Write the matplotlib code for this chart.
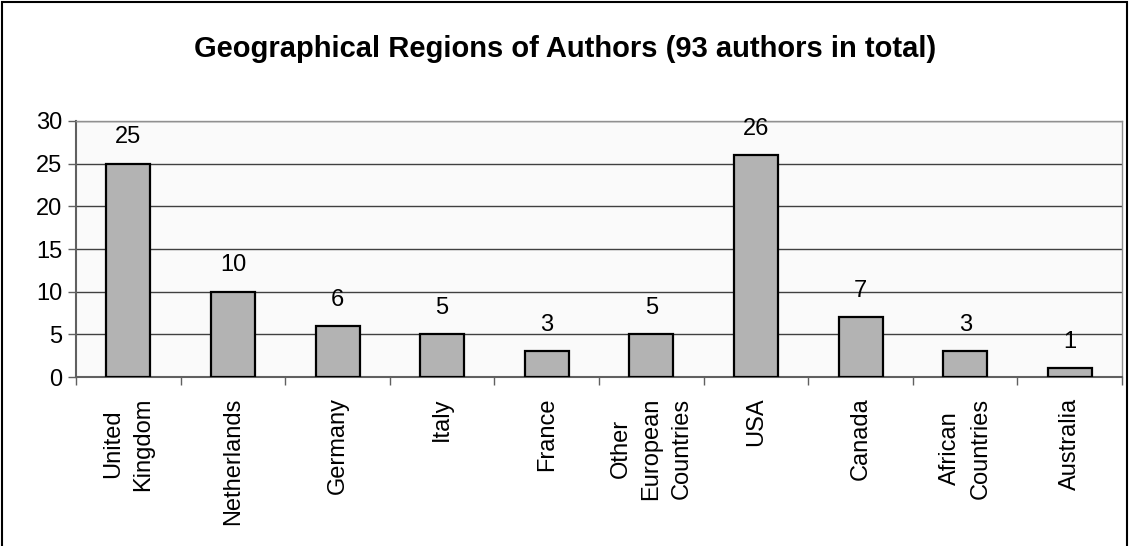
import numpy as np
import matplotlib.pyplot as plt
from matplotlib.patches import Rectangle

plt.rcParams['font.family'] = ['Liberation Sans', 'DejaVu Sans']

regions = ["United\nKingdom", "Netherlands", "Germany", "Italy", "France",
           "Other\nEuropean\nCountries", "USA", "Canada", "African\nCountries",
           "Australia"]
authors = [25, 10, 6, 5, 3, 5, 26, 7, 3, 1]
y_ticks = [0, 5, 10, 15, 20, 25, 30]

fig = plt.figure(figsize=(11.3, 5.46), dpi=100)
ax = fig.add_axes([0.0673, 0.3095, 0.9257, 0.4689])

x = np.arange(len(regions))
ax.bar(x, authors, width=0.42, color="#b3b3b3", edgecolor="black",
       linewidth=1.6, zorder=3)

for xi, v in zip(x, authors):
    ax.annotate(str(v), (xi, v), xytext=(0, 11), textcoords="offset points",
                ha="center", va="bottom", fontsize=17)

ax.set_xlim(-0.5, len(regions) - 0.5)
ax.set_ylim(0, 30)
ax.set_yticks(y_ticks)
ax.tick_params(axis="y", labelsize=17, length=6, width=1, color="#606060", pad=4)
ax.yaxis.grid(True, color="#404040", linewidth=1, zorder=0)
ax.set_facecolor("#fafafa")

# category labels sit between boundary ticks
ax.set_xticks(np.arange(-0.5, len(regions)), minor=False)
ax.set_xticklabels([])
ax.tick_params(axis="x", length=6, width=1, color="#606060")
for xi, name in zip(x, regions):
    ax.text(xi, -0.08, name, transform=ax.get_xaxis_transform(), rotation=90,
            ha="center", va="top", multialignment="center", fontsize=17,
            linespacing=1.5)

for side in ["left", "bottom"]:
    ax.spines[side].set_color("#606060")
    ax.spines[side].set_linewidth(1.5)
for side in ["top", "right"]:
    ax.spines[side].set_color("#909090")
    ax.spines[side].set_linewidth(1)

fig.text(0.5, 0.91, "Geographical Regions of Authors (93 authors in total)",
         ha="center", va="center", fontsize=21, fontweight="bold")

# chart frame
fig.patches.append(Rectangle((2 / 1130, -0.05), 1125 / 1130, 1.05 - 2 / 546,
                             transform=fig.transFigure, fill=False,
                             edgecolor="black", linewidth=1.5))

fig.savefig("out.png", dpi=100)
